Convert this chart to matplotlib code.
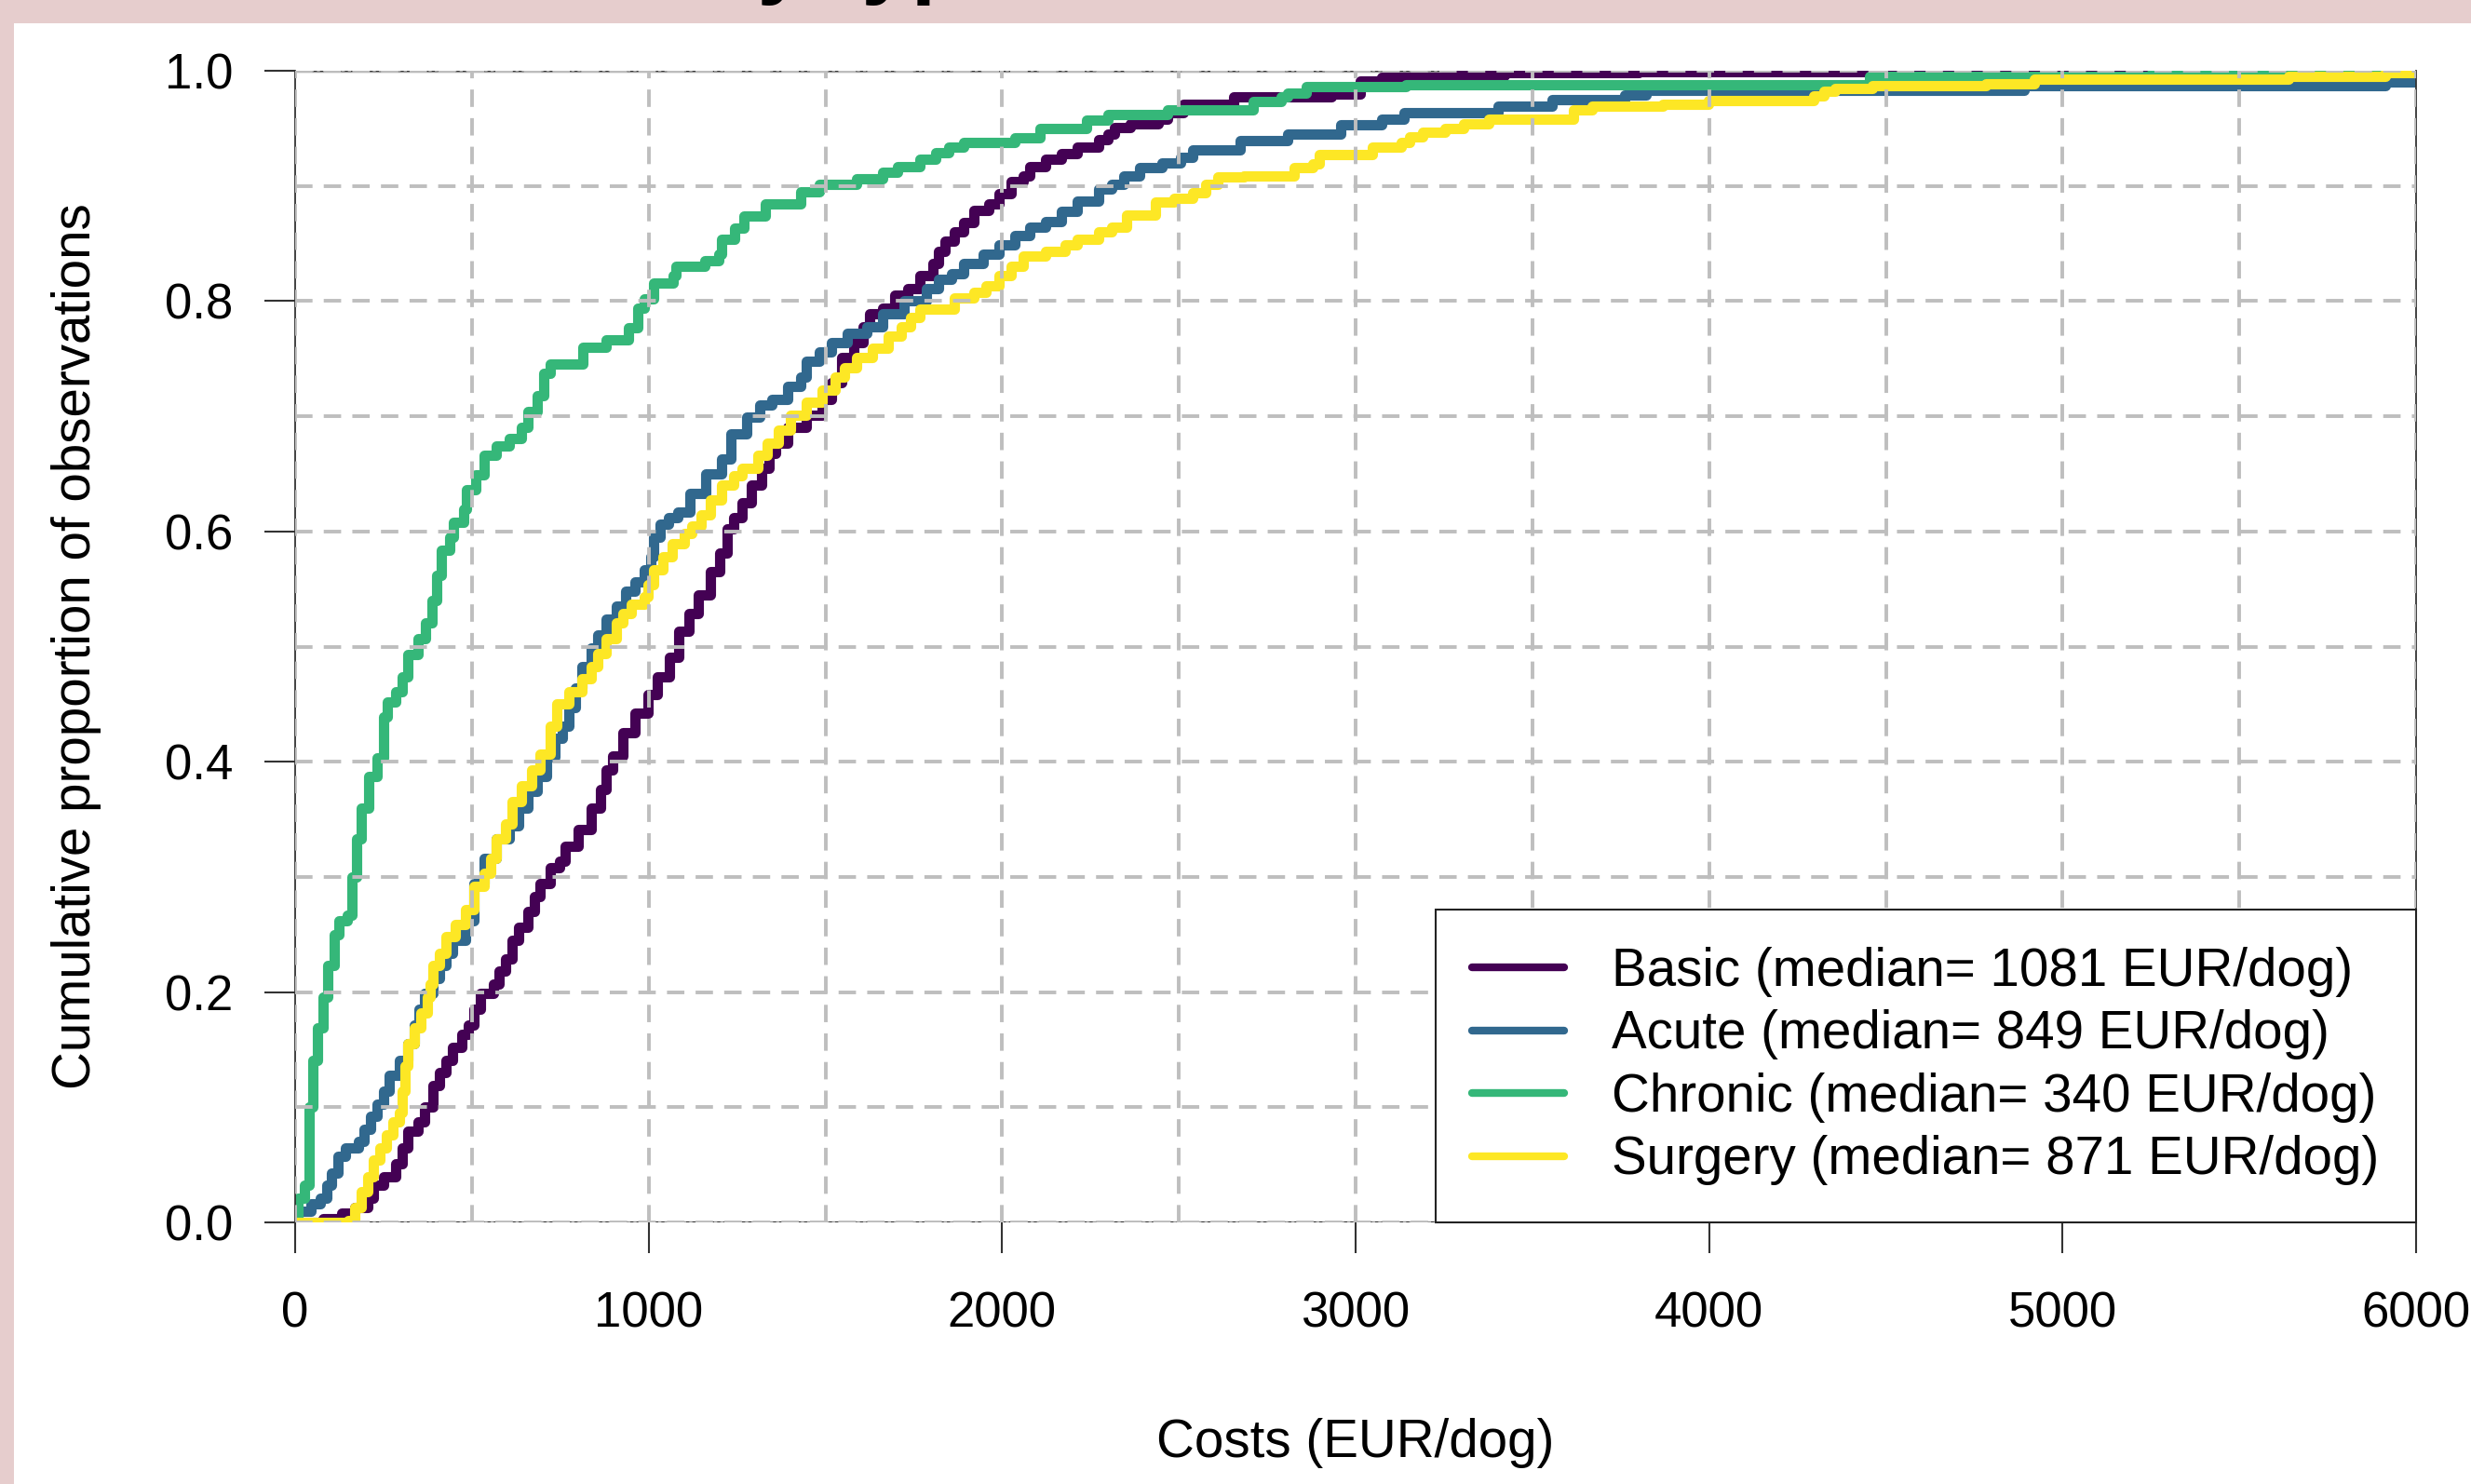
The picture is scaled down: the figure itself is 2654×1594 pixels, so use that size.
import numpy as np
import matplotlib
matplotlib.use("Agg")
import matplotlib.pyplot as plt
from matplotlib.patches import Rectangle

plt.rcParams["font.family"] = ["Liberation Sans", "DejaVu Sans"]

# ECDF knots (cost in EUR/dog, cumulative proportion)
basic_cost = [0, 60, 80, 133, 169, 205, 222, 249, 285, 302, 320, 347, 365, 391, 409, 427, 445, 472, 489, 507,
              525, 561, 578, 596, 614, 632, 659, 676, 694, 721, 748, 765, 801, 837, 863, 881, 899, 926, 961, 997,
              1024, 1059, 1086, 1113, 1140, 1175, 1202, 1222, 1240, 1264, 1291, 1320, 1340, 1358, 1394, 1447,
              1491, 1518, 1545, 1580, 1607, 1625, 1661, 1696, 1732, 1767, 1803, 1821, 1839, 1865, 1892, 1919,
              1963, 1990, 2026, 2061, 2079, 2124, 2168, 2213, 2273, 2300, 2318, 2362, 2442, 2469, 2513, 2656,
              2932, 3012, 3074, 3252, 3422, 3800, 5250, 6000]
basic_prop = [0, 0, 0.003, 0.008, 0.013, 0.021, 0.032, 0.040, 0.051, 0.065, 0.079, 0.087, 0.100, 0.119, 0.130,
              0.141, 0.152, 0.163, 0.171, 0.185, 0.199, 0.207, 0.218, 0.229, 0.245, 0.256, 0.270, 0.283, 0.294,
              0.308, 0.314, 0.327, 0.341, 0.360, 0.376, 0.393, 0.405, 0.425, 0.442, 0.458, 0.474, 0.491, 0.513,
              0.529, 0.545, 0.565, 0.581, 0.602, 0.612, 0.625, 0.640, 0.655, 0.668, 0.677, 0.690, 0.701, 0.715,
              0.729, 0.751, 0.764, 0.778, 0.789, 0.794, 0.805, 0.811, 0.822, 0.833, 0.843, 0.852, 0.860, 0.868,
              0.879, 0.884, 0.893, 0.904, 0.909, 0.917, 0.923, 0.928, 0.934, 0.940, 0.945, 0.951, 0.954, 0.958,
              0.964, 0.971, 0.977, 0.980, 0.991, 0.994, 0.996, 0.998, 0.999, 1.0, 1.0]

acute_cost = [0, 4, 9, 44, 71, 89, 102, 120, 142, 178, 196, 213, 231, 249, 267, 294, 320, 338, 351, 365, 391,
              409, 427, 445, 481, 507, 534, 570, 605, 632, 659, 685, 712, 735, 757, 774, 792, 810, 837, 855, 881,
              908, 935, 961, 988, 1006, 1015, 1033, 1055, 1082, 1118, 1162, 1207, 1233, 1278, 1313, 1349, 1394,
              1429, 1447, 1483, 1518, 1563, 1616, 1661, 1723, 1785, 1821, 1856, 1892, 1946, 1990, 2035, 2079,
              2124, 2168, 2213, 2273, 2309, 2344, 2389, 2451, 2504, 2540, 2674, 2807, 2959, 3074, 3137, 3404,
              3555, 3761, 3822, 4891, 5914, 6000]
acute_prop = [0, 0, 0.010, 0.016, 0.021, 0.032, 0.043, 0.057, 0.065, 0.070, 0.081, 0.092, 0.103, 0.114, 0.128,
              0.141, 0.155, 0.171, 0.185, 0.199, 0.212, 0.223, 0.234, 0.245, 0.262, 0.294, 0.316, 0.333, 0.344,
              0.360, 0.374, 0.387, 0.404, 0.420, 0.431, 0.447, 0.464, 0.483, 0.499, 0.510, 0.524, 0.535, 0.548,
              0.556, 0.567, 0.578, 0.595, 0.606, 0.612, 0.617, 0.633, 0.650, 0.663, 0.685, 0.699, 0.710, 0.715,
              0.726, 0.734, 0.748, 0.756, 0.764, 0.772, 0.778, 0.789, 0.800, 0.811, 0.819, 0.824, 0.833, 0.841,
              0.849, 0.857, 0.864, 0.869, 0.878, 0.887, 0.897, 0.901, 0.909, 0.916, 0.920, 0.925, 0.931, 0.939,
              0.945, 0.953, 0.958, 0.964, 0.969, 0.975, 0.979, 0.983, 0.987, 0.990, 0.993]

chronic_cost = [0, 4, 9, 26, 40, 49, 62, 80, 93, 111, 124, 147, 160, 173, 187, 209, 231, 249, 262, 285, 302,
                320, 347, 369, 387, 400, 414, 436, 449, 476, 485, 512, 534, 570, 605, 641, 659, 685, 703, 721,
                814, 881, 944, 970, 988, 1013, 1069, 1077, 1160, 1198, 1207, 1242, 1269, 1331, 1430, 1483, 1589,
                1661, 1705, 1767, 1812, 1848, 1892, 2035, 2106, 2239, 2300, 2469, 2709, 2789, 2807, 2861, 3141,
                4455, 5250, 5900, 6000]
chronic_prop = [0, 0, 0.021, 0.032, 0.100, 0.141, 0.169, 0.196, 0.223, 0.250, 0.262, 0.267, 0.300, 0.333,
                0.360, 0.387, 0.403, 0.439, 0.452, 0.461, 0.474, 0.493, 0.507, 0.521, 0.540, 0.562, 0.584, 0.595,
                0.608, 0.619, 0.636, 0.649, 0.666, 0.674, 0.681, 0.690, 0.704, 0.718, 0.737, 0.745, 0.760, 0.766,
                0.777, 0.794, 0.802, 0.816, 0.822, 0.830, 0.835, 0.841, 0.854, 0.863, 0.874, 0.884, 0.895, 0.901,
                0.906, 0.912, 0.917, 0.923, 0.929, 0.934, 0.938, 0.942, 0.950, 0.957, 0.962, 0.966, 0.973, 0.977,
                0.981, 0.986, 0.988, 0.995, 0.997, 0.999, 1.0]

surgery_cost = [0, 151, 169, 187, 205, 222, 240, 258, 276, 294, 302, 311, 320, 338, 356, 374, 383, 391, 409,
                427, 454, 481, 507, 534, 552, 570, 596, 614, 641, 668, 694, 721, 739, 774, 810, 837, 855, 881,
                908, 926, 952, 988, 997, 1015, 1041, 1068, 1100, 1122, 1148, 1175, 1207, 1240, 1264, 1309, 1335,
                1367, 1402, 1447, 1491, 1527, 1554, 1589, 1634, 1678, 1714, 1741, 1767, 1865, 1919, 1954, 1990,
                2026, 2061, 2124, 2177, 2213, 2273, 2309, 2353, 2433, 2487, 2540, 2576, 2611, 2683, 2825, 2878,
                2896, 3048, 3128, 3154, 3190, 3252, 3306, 3377, 3617, 3669, 3868, 3997, 4295, 4326, 4356, 4463,
                4784, 4921, 5639, 5914, 6000]
surgery_prop = [0, 0.002, 0.013, 0.027, 0.040, 0.054, 0.065, 0.076, 0.087, 0.095, 0.114, 0.136, 0.155, 0.169,
                0.182, 0.196, 0.207, 0.223, 0.234, 0.248, 0.259, 0.272, 0.292, 0.303, 0.316, 0.333, 0.346, 0.365,
                0.379, 0.393, 0.407, 0.431, 0.450, 0.461, 0.472, 0.483, 0.494, 0.507, 0.521, 0.529, 0.537, 0.543,
                0.554, 0.567, 0.578, 0.589, 0.598, 0.605, 0.614, 0.627, 0.640, 0.648, 0.655, 0.666, 0.677, 0.688,
                0.701, 0.712, 0.723, 0.734, 0.742, 0.751, 0.759, 0.770, 0.778, 0.786, 0.793, 0.803, 0.808, 0.813,
                0.822, 0.830, 0.839, 0.843, 0.849, 0.854, 0.860, 0.864, 0.875, 0.886, 0.889, 0.894, 0.901, 0.908,
                0.909, 0.916, 0.919, 0.927, 0.934, 0.938, 0.943, 0.947, 0.950, 0.954, 0.958, 0.966, 0.969, 0.971,
                0.974, 0.978, 0.982, 0.985, 0.987, 0.989, 0.993, 0.995, 0.998, 1.0]

labels = ["Basic (median= 1081 EUR/dog)", "Acute (median= 849 EUR/dog)",
          "Chronic (median= 340 EUR/dog)", "Surgery (median= 871 EUR/dog)"]
colors = ["#440154", "#31688E", "#35B779", "#FDE725"]

W, H = 2654, 1594
fig = plt.figure(figsize=(W / 100, H / 100), dpi=100, facecolor="#E6CDCD")
fig.patches.append(Rectangle((15 / W, 0), 1, (H - 25) / H, transform=fig.transFigure,
                             facecolor="white", edgecolor="none", zorder=-1))

# title sits mostly above the visible area, only the descenders show
fig.text(462 / W, 1 + 14 / H, "Costs by type", fontsize=69, fontweight="bold", ha="left", va="baseline")

ax = fig.add_axes([317 / W, 1 - 1313 / H, (2595 - 317) / W, (1313 - 76) / H])

ax.axhline(0, color="#9A9A9A", lw=2.5, zorder=1.5)
ax.axhline(1, color="#9A9A9A", lw=2.5, zorder=1.5)
ax.axhline(0, color="#222222", lw=1.2, ls=(0, (2, 2)), zorder=1.6)
ax.axhline(1, color="#222222", lw=1.2, ls=(0, (2, 2)), zorder=1.6)

series = [(basic_cost, basic_prop), (acute_cost, acute_prop),
          (chronic_cost, chronic_prop), (surgery_cost, surgery_prop)]
for (x, y), c, lab in zip(series, colors, labels):
    ax.step(x, y, where="post", color=c, lw=8, label=lab, zorder=2)

ax.set_xlim(0, 6000)
ax.set_ylim(0, 1)
ax.set_xticks(np.arange(0, 6001, 1000))
ax.set_yticks(np.arange(0, 1.01, 0.2))
ax.set_yticklabels([f"{v:.1f}" for v in np.arange(0, 1.01, 0.2)])
ax.set_xticks(np.arange(0, 6001, 500), minor=True)
ax.set_yticks(np.arange(0, 1.01, 0.1), minor=True)
ax.tick_params(which="major", length=24, width=1.5, color="#333333", labelsize=38)
ax.tick_params(axis="x", pad=29)
ax.tick_params(axis="y", pad=24)
ax.tick_params(which="minor", length=0)

ax.set_axisbelow(False)
ax.grid(which="both", color="#BEBEBE", linestyle=(0, (4.8, 3.1)), linewidth=2.8)
for s in ax.spines.values():
    s.set_color("#333333")
    s.set_linewidth(1.3)
ax.spines["top"].set_visible(False)
ax.spines["bottom"].set_visible(False)

leg = ax.legend(loc="lower right", bbox_to_anchor=(1, 0), borderaxespad=0, fontsize=40.7,
                fancybox=False, framealpha=1, edgecolor="#222222", handlelength=1.75,
                handletextpad=0.9, labelspacing=0.24, borderpad=0.7)
leg.get_frame().set_linewidth(1.5)
for line in leg.get_lines():
    line.set_linewidth(6)
    line.set_solid_capstyle("round")

fig.text(1456 / W, 1 - 1550 / H, "Costs (EUR/dog)", fontsize=40.7, ha="center", va="center")
fig.text(82 / W, 1 - 694 / H, "Cumulative proportion of observations", fontsize=40.7,
         rotation=90, ha="center", va="center")

fig.savefig("out.png", dpi=100, facecolor=fig.get_facecolor())
